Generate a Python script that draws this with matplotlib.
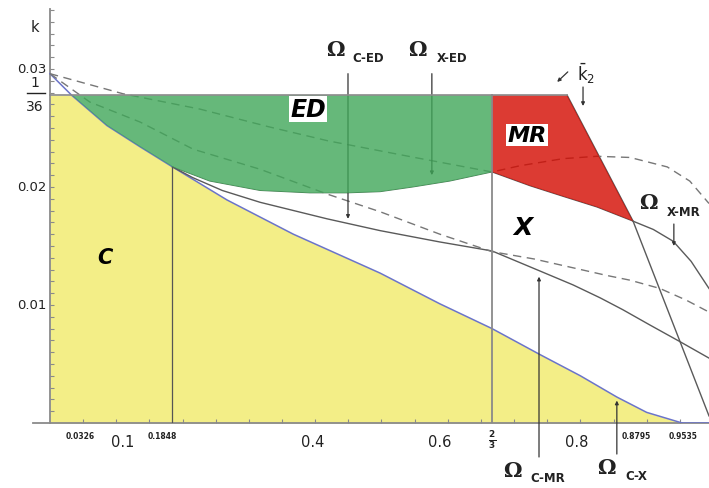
import numpy as np
import matplotlib
matplotlib.use("Agg")
import matplotlib.pyplot as plt

# ---- data (x, k) ----
k_top = 1 / 36
k0 = 0.0296  # common starting point of the curves at x = 0

# lower boundary of region C (blue curve)
c_x = [0, 0.0326, 0.086, 0.136, 0.1848, 0.267, 0.367, 0.498, 0.588, 0.6667, 0.739, 0.80, 0.855, 0.90, 0.9535]
c_k = [k0, 0.02778, 0.0252, 0.0234, 0.0217, 0.0189, 0.0160, 0.0127, 0.0101, 0.0080, 0.0058, 0.0040, 0.0022, 0.0009, 0.0]

# lower boundary of region ED
ed_x = [0.1848, 0.241, 0.317, 0.392, 0.448, 0.498, 0.5475, 0.603, 0.6667]
ed_k = [0.0217, 0.0205, 0.0197, 0.0195, 0.0195, 0.0196, 0.0200, 0.0205, 0.02127]

# lower boundary of region MR
mr_x = [0.6667, 0.724, 0.774, 0.825, 0.8795]
mr_k = [0.02127, 0.0201, 0.0192, 0.0183, 0.0171]
mr_corner_x = 0.780  # where MR leaves the k = 1/36 line

# solid grey curve
sol_x = [0.1848, 0.215, 0.26, 0.317, 0.418, 0.498, 0.588, 0.6667, 0.739, 0.789, 0.830, 0.864, 0.905, 0.950, 0.994]
sol_k = [0.0217, 0.0208, 0.0197, 0.0187, 0.0173, 0.0163, 0.01534, 0.01458, 0.01288, 0.0117, 0.0106, 0.0096, 0.0083, 0.0069, 0.0055]

# steep line through the MR corner
st_x = [mr_corner_x, 0.8795, 0.994]
st_k = [k_top, 0.0171, 0.0006]

# X-MR curve
xm_x = [0.8795, 0.91, 0.94, 0.967, 0.994]
xm_k = [0.0171, 0.0164, 0.0154, 0.0137, 0.0114]

# dashed curves
du_x = [0, 0.110, 0.226, 0.33, 0.42, 0.55, 0.6667, 0.709, 0.774, 0.825, 0.875, 0.931, 0.965, 0.994]
du_k = [k0, 0.0279, 0.0266, 0.0251, 0.0239, 0.0225, 0.02127, 0.0218, 0.0224, 0.0226, 0.0225, 0.0217, 0.0205, 0.0186]
dl_x = [0, 0.060, 0.136, 0.216, 0.317, 0.418, 0.498, 0.588, 0.6667, 0.73, 0.789, 0.84, 0.875, 0.92, 0.96, 0.994]
dl_k = [k0, 0.0272, 0.0255, 0.0232, 0.0215, 0.0194, 0.0179, 0.0160, 0.01452, 0.0139, 0.01315, 0.0125, 0.0121, 0.0114, 0.0104, 0.0094]

x_marks = [0.0326, 0.1848, 0.8795, 0.9535]

# ---- figure ----
fig = plt.figure(figsize=(7.09, 4.89), dpi=100)
ax = fig.add_axes([33 / 709, 65 / 489, 676 / 709, 414 / 489])
ax.set_xlim(-0.0256, 0.994)
ax.set_ylim(0, 0.03508)

for s in ["top", "right"]:
    ax.spines[s].set_visible(False)
ax.spines["left"].set_position(("data", 0))
for s in ["left", "bottom"]:
    ax.spines[s].set_color("#8a8a8a")
    ax.spines[s].set_linewidth(1.3)
ax.set_xticks(np.arange(0.05, 0.96, 0.05))
ax.set_yticks(np.arange(0.001, 0.0351, 0.001))
ax.tick_params(direction="in", length=3, color="#8a8a8a", labelbottom=False, labelleft=False)

# region C (yellow)
cx = np.array(c_x)
ck = np.minimum(np.array(c_k), k_top)
ax.fill_between(cx, 0, ck, color="#f3ee87", lw=0, zorder=1)

# region ED (green)
c_part = [(x, k) for x, k in zip(c_x, c_k) if 0.0326 <= x <= 0.1848]
ed_poly = [(0.0326, k_top), (0.6667, k_top)] + list(zip(ed_x, ed_k))[::-1] + c_part[::-1]
ax.add_patch(plt.Polygon(ed_poly, closed=True, facecolor="#40a759", alpha=0.8, lw=0, zorder=4))

# region MR (red)
mr_poly = [(0.6667, k_top), (mr_corner_x, k_top)] + list(zip(mr_x, mr_k))[::-1]
ax.add_patch(plt.Polygon(mr_poly, closed=True, facecolor="#d40a00", alpha=0.8, lw=0, zorder=4))

# curves
ax.plot(c_x, c_k, color="#6b74c9", lw=1.1, zorder=3)
ax.plot([0.9535, 0.994], [0, 0], color="#6b74c9", lw=1.1, zorder=3)
ax.plot(ed_x, ed_k, color="#4f7f5a", lw=0.7, zorder=3)
ax.plot(mr_x, mr_k, color="#5a5a5a", lw=0.8, zorder=3)
ax.plot(sol_x, sol_k, color="#5a5a5a", lw=1.0, zorder=3)
ax.plot(st_x, st_k, color="#5a5a5a", lw=1.0, zorder=3)
ax.plot(xm_x, xm_k, color="#5a5a5a", lw=1.0, zorder=3)
ax.plot(du_x, du_k, color="#777777", lw=1.0, ls=(0, (6, 4)), zorder=3)
ax.plot(dl_x, dl_k, color="#777777", lw=1.0, ls=(0, (6, 4)), zorder=3)
ax.plot([0, mr_corner_x], [k_top, k_top], color="#8a8a8a", lw=1.2, zorder=5)

# vertical guides
ax.plot([0.1848, 0.1848], [0, 0.0217], color="#555555", lw=0.9, zorder=3)
ax.plot([2 / 3, 2 / 3], [0, k_top], color="#8a8a8a", lw=1.3, zorder=5)

# tick labels
for v, lab in [(0.03, "0.03"), (0.02, "0.02"), (0.01, "0.01")]:
    ax.text(-0.0045, v, lab, ha="right", va="center", fontsize=9.5, color="#222")
ax.text(-0.0226, 0.0289, "1", ha="center", va="center", fontsize=10, color="#222", clip_on=False)
ax.text(-0.0226, 0.02685, "36", ha="center", va="center", fontsize=10, color="#222", clip_on=False)
ax.plot([-0.0347, -0.0075], [0.02796, 0.02796], color="#222", lw=1.0, clip_on=False)
ax.text(-0.0226, 0.03356, "k", ha="center", va="center", fontsize=10.5, color="#222")
for x, lab in [(0.110, "0.1"), (0.397, "0.4"), (0.588, "0.6"), (0.795, "0.8")]:
    ax.text(x, -0.0016, lab, ha="center", va="center", fontsize=10.5, color="#222")
ax.text(2 / 3, -0.00136, r"$\mathbf{\frac{2}{3}}$", ha="center", va="center", fontsize=9, color="#222")
for x, lab in zip([0.045, 0.169, 0.885, 0.955], x_marks):
    ax.text(x, -0.0011, f"{lab:g}", ha="center", va="center", fontsize=5.5, fontweight="bold", color="#222")

# region labels
box = dict(facecolor="white", edgecolor="none", pad=1.0)
ax.text(0.389, 0.0266, "ED", fontsize=17, fontweight="bold", style="italic", ha="center", va="center", bbox=box, zorder=6)
ax.text(0.719, 0.0244, "MR", fontsize=16, fontweight="bold", style="italic", ha="center", va="center", bbox=box, zorder=6)
ax.text(0.713, 0.0166, "X", fontsize=18, fontweight="bold", style="italic", ha="center", va="center", zorder=6)
ax.text(0.083, 0.0141, "C", fontsize=15, fontweight="bold", style="italic", ha="center", va="center", zorder=6)

# Omega labels
def omega(xo, ko, xs, ks, sub):
    ax.text(xo, ko, "Ω", fontsize=15, fontweight="bold", family="DejaVu Serif",
            ha="center", va="center", color="#222", clip_on=False)
    ax.text(xs, ks, sub, fontsize=8.5, fontweight="bold", ha="center", va="center",
            color="#222", clip_on=False)

arrow = dict(arrowstyle="-|>", color="#333333", lw=0.9, mutation_scale=5, shrinkA=0, shrinkB=0)

omega(0.431, 0.0317, 0.480, 0.0310, "C-ED")
ax.annotate("", xy=(0.4495, 0.0173), xytext=(0.4495, 0.0296), arrowprops=arrow, zorder=3)
omega(0.5535, 0.0317, 0.606, 0.0310, "X-ED")
ax.annotate("", xy=(0.576, 0.0210), xytext=(0.576, 0.0296), arrowprops=arrow, zorder=3)
omega(0.902, 0.01873, 0.956, 0.01788, "X-MR")
ax.annotate("", xy=(0.941, 0.0150), xytext=(0.941, 0.01686), arrowprops=arrow)
omega(0.697, -0.0040, 0.751, -0.00466, "C-MR")
ax.annotate("", xy=(0.7376, 0.0124), xytext=(0.7376, -0.00288), arrowprops=arrow, annotation_clip=False)
omega(0.8386, -0.00373, 0.885, -0.00449, "C-X")
ax.annotate("", xy=(0.855, 0.0019), xytext=(0.855, -0.00263), arrowprops=arrow, annotation_clip=False)

# k2 bar marker
ax.text(0.808, 0.0297, r"$\bar{\mathrm{k}}_2$", fontsize=12, ha="center", va="center", color="#222")
ax.annotate("", xy=(0.765, 0.0289), xytext=(0.781, 0.02975), arrowprops=arrow)
ax.annotate("", xy=(0.804, 0.02686), xytext=(0.804, 0.02847), arrowprops=arrow)

fig.savefig("out.png", dpi=100)
